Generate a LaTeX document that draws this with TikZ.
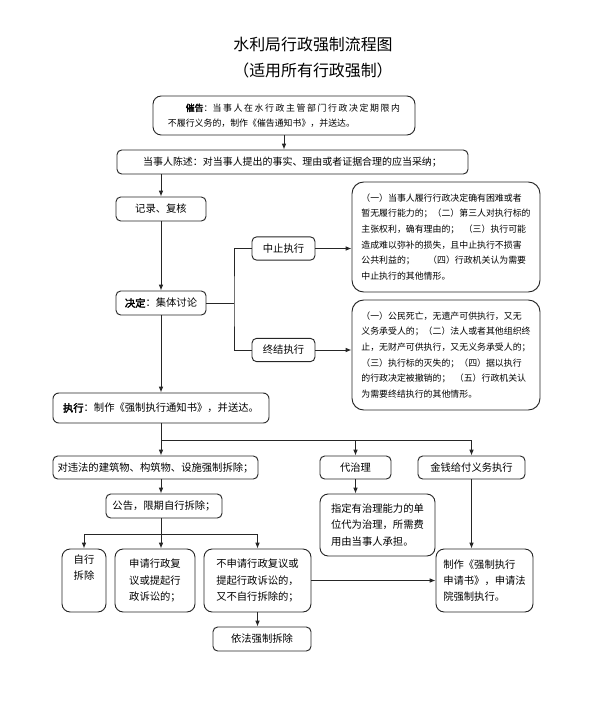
\documentclass[tikz,border=0pt]{standalone}
\usepackage{fontspec}
\setmainfont{Noto Sans CJK SC}[AutoFakeBold=2.5]
\usetikzlibrary{positioning,arrows.meta,calc}

\begin{document}
\begin{tikzpicture}[x=0.03cm, y=-0.03cm,
    head/.style={font=\fontsize{13.6}{16}\selectfont},
    box/.style={rectangle, draw=black!85, line width=0.8pt, rounded corners=4pt, inner sep=2pt, font=\fontsize{8.8}{14}\selectfont},
    note/.style={box, rounded corners=10pt, align=left, font=\fontsize{7.6}{13.4}\selectfont},
    multi/.style={box, rounded corners=7pt, align=left, minimum height=1.89cm},
    link/.style={draw=black!85, line width=0.8pt},
    arr/.style={link, -{Latex[length=5pt,width=4pt]}}
]
    \useasboundingbox (0,0) rectangle (600,704);

    \node[head] (title) at (313,45) {水利局行政强制流程图};
    \node[head] (subtitle) at (313,70) {（适用所有行政强制）};

    \node[box, rounded corners=7pt, minimum width=7.86cm, minimum height=1.17cm, align=left, font=\fontsize{7.6}{13}\selectfont] (warn) at (284,115.5)
        {\hspace{2em}\textbf{催告}：{\addfontfeature{LetterSpace=18}当事人在水行政主管部门行政决定期限内}\\不履行义务的，制作《催告通知书》，并送达。};
    \node[box, minimum width=10.53cm, minimum height=0.72cm, font=\fontsize{8.5}{12}\selectfont] (state) at (292.5,162)
        {当事人陈述：对当事人提出的事实、理由或者证据合理的应当采纳；};
    \node[box, minimum width=2.7cm, minimum height=0.72cm] (record) at (161,209) {记录、复核};
    \node[box, minimum width=2.7cm, minimum height=0.72cm] (decide) at (161,303) {\textbf{决定}：集体讨论};
    \node[box, minimum width=1.89cm, minimum height=0.7cm] (suspend) at (283.5,248.5) {中止执行};
    \node[box, minimum width=1.89cm, minimum height=0.7cm] (terminate) at (283.5,350) {终结执行};

    \node[note, minimum width=5.64cm, minimum height=3.3cm] (suspendtxt) at (446,237)
        {（一）当事人履行行政决定确有困难或者\\暂无履行能力的；（二）第三人对执行标的\\主张权利，确有理由的；\enspace（三）执行可能\\造成难以弥补的损失，且中止执行不损害\\公共利益的；\quad\enspace（四）行政机关认为需要\\中止执行的其他情形。};
    \node[note, minimum width=5.64cm, minimum height=3.3cm] (terminatetxt) at (446,355)
        {（一）公民死亡，无遗产可供执行，又无\\义务承受人的；（二）法人或者其他组织终\\止，无财产可供执行，又无义务承受人的；\\（三）执行标的灭失的；（四）据以执行\\的行政决定被撤销的；\enspace（五）行政机关认\\为需要终结执行的其他情形。};

    \node[box, rounded corners=5pt, minimum width=6.48cm, minimum height=0.9cm] (exec) at (161,408)
        {\textbf{执行}：制作《强制执行通知书》，并送达。};

    \node[box, minimum width=6.15cm, minimum height=0.69cm] (demolish) at (155.5,467.5) {对违法的建筑物、构筑物、设施强制拆除；};
    \node[box, minimum width=2.13cm, minimum height=0.69cm] (agent) at (355.5,467.5) {代治理};
    \node[box, minimum width=3.21cm, minimum height=0.69cm] (money) at (471.5,467.5) {金钱给付义务执行};
    \node[box, minimum width=3.48cm, minimum height=0.72cm] (notice) at (164,506) {公告，限期自行拆除；};
    \node[multi, minimum width=3.45cm, minimum height=1.86cm] (agenttxt) at (377.5,525)
        {指定有治理能力的单\\位代为治理，所需费\\用由当事人承担。};

    \node[multi, minimum width=1.32cm] (self) at (84,580.5) {};
    \node[font=\fontsize{8.8}{14}\selectfont, align=center, anchor=north, inner sep=1pt] (selftxt) at (84,553) {自行\\拆除};
    \node[multi, minimum width=2.4cm] (apply) at (155,580.5) {申请行政复\\议或提起行\\政诉讼的；};
    \node[multi, minimum width=3.21cm] (noapply) at (257.5,580.5) {不申请行政复议或\\提起行政诉讼的，\\又不自行拆除的；};
    \node[multi, minimum width=2.91cm] (court) at (484.5,580.5) {制作《强制执行\\申请书》，申请法\\院强制执行。};
    \node[box, minimum width=2.94cm, minimum height=0.72cm] (force) at (262,639) {依法强制拆除};

    % connectors
    \draw[arr] (warn.south) -- (warn.south |- state.north);
    \draw[arr] (record.north |- state.south) -- (record.north);
    \draw[arr] (record) -- (decide);
    \coordinate (fork) at (234,303);
    \draw[link] (decide.east) -- (fork);
    \draw[link] (suspend.west) -| (fork) |- (terminate.west);
    \draw[arr] (suspend.east) -- (suspend.east -| suspendtxt.west);
    \draw[arr] (terminate.east) -- (terminate.east -| terminatetxt.west);
    \draw[arr] (decide) -- (exec);

    \coordinate (split) at (161,440);
    \draw[link] (exec.south) -- (split) -- (split -| money.north);
    \draw[arr] (split) -- (split |- demolish.north);
    \draw[arr] (split -| agent.north) -- (agent.north);
    \draw[arr] (split -| money.north) -- (money.north);
    \draw[arr] (split |- demolish.south) -- (split |- notice.north);

    \coordinate (bar) at (161,534);
    \draw[link] (split |- notice.south) -- (bar);
    \draw[arr] (bar) -| (self.north);
    \draw[arr] (bar) -- (bar |- apply.north);
    \draw[arr] (bar) -| (noapply.north);

    \draw[arr] (agent.south) -- (agent.south |- agenttxt.north);
    \draw[arr] (money.south) -- (money.south |- court.north);
    \draw[arr] (noapply.east) -- (noapply.east -| court.west);
    \draw[arr] (noapply.south) -- (noapply.south |- force.north);
\end{tikzpicture}
\end{document}
